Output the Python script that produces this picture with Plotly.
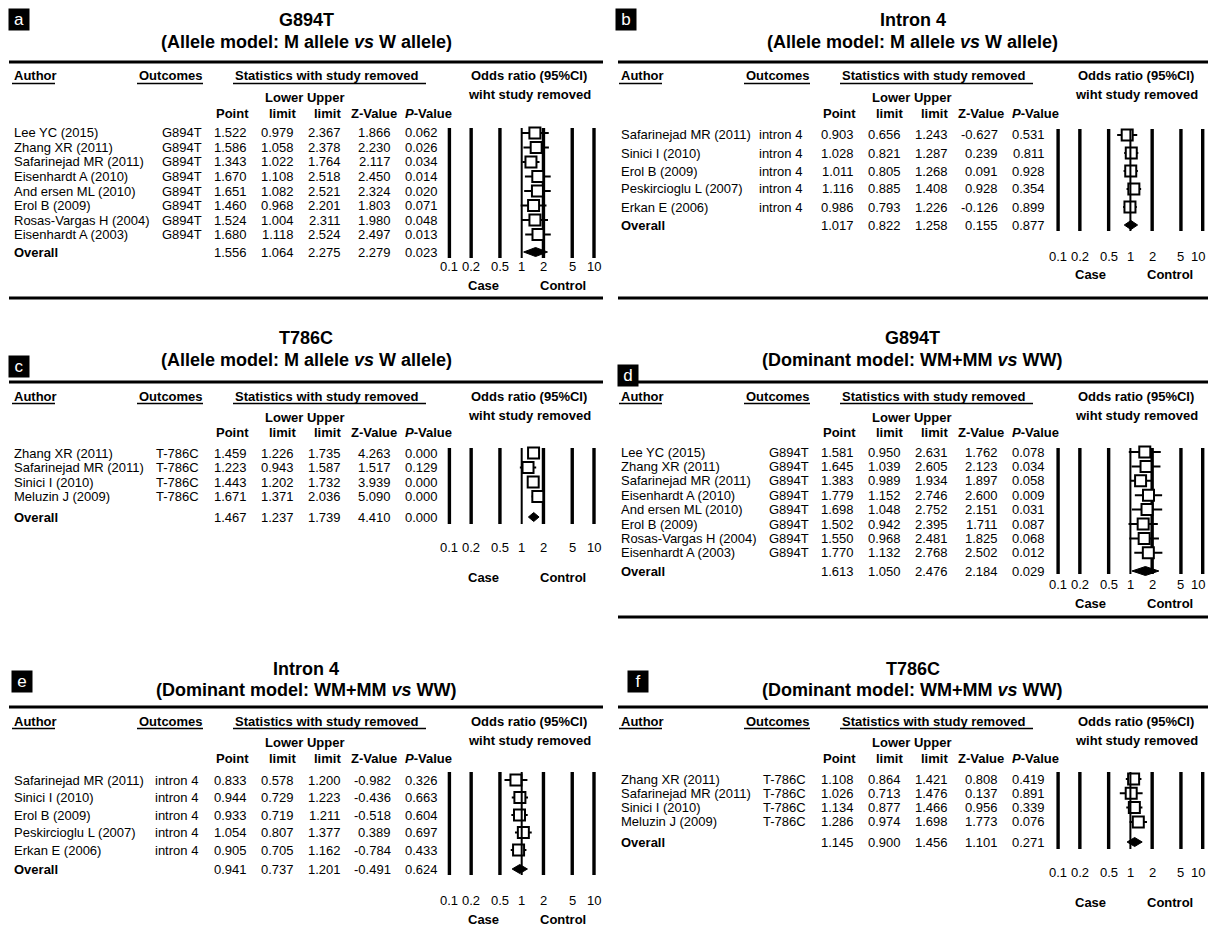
import math
import plotly.graph_objects as go

W, H = 1208, 934
FONT = "Liberation Sans, Arial, Helvetica, sans-serif"

# ---------------- data ----------------
# a: G894T, allele model
A_AUTHOR = ["Lee YC (2015)", "Zhang XR (2011)", "Safarinejad MR (2011)", "Eisenhardt A (2010)",
            "And ersen ML (2010)", "Erol B (2009)", "Rosas-Vargas H (2004)", "Eisenhardt A (2003)"]
A_POINT = [1.522, 1.586, 1.343, 1.670, 1.651, 1.460, 1.524, 1.680, 1.556]
A_LOWER = [0.979, 1.058, 1.022, 1.108, 1.082, 0.968, 1.004, 1.118, 1.064]
A_UPPER = [2.367, 2.378, 1.764, 2.518, 2.521, 2.201, 2.311, 2.524, 2.275]
A_Z = [1.866, 2.230, 2.117, 2.450, 2.324, 1.803, 1.980, 2.497, 2.279]
A_P = [0.062, 0.026, 0.034, 0.014, 0.020, 0.071, 0.048, 0.013, 0.023]

# b: Intron 4, allele model
B_AUTHOR = ["Safarinejad MR (2011)", "Sinici I (2010)", "Erol B (2009)",
            "Peskircioglu L (2007)", "Erkan E (2006)"]
B_POINT = [0.903, 1.028, 1.011, 1.116, 0.986, 1.017]
B_LOWER = [0.656, 0.821, 0.805, 0.885, 0.793, 0.822]
B_UPPER = [1.243, 1.287, 1.268, 1.408, 1.226, 1.258]
B_Z = [-0.627, 0.239, 0.091, 0.928, -0.126, 0.155]
B_P = [0.531, 0.811, 0.928, 0.354, 0.899, 0.877]

# c: T786C, allele model
C_AUTHOR = ["Zhang XR (2011)", "Safarinejad MR (2011)", "Sinici I (2010)", "Meluzin J (2009)"]
C_POINT = [1.459, 1.223, 1.443, 1.671, 1.467]
C_LOWER = [1.226, 0.943, 1.202, 1.371, 1.237]
C_UPPER = [1.735, 1.587, 1.732, 2.036, 1.739]
C_Z = [4.263, 1.517, 3.939, 5.090, 4.410]
C_P = [0.000, 0.129, 0.000, 0.000, 0.000]

# d: G894T, dominant model
D_AUTHOR = A_AUTHOR
D_POINT = [1.581, 1.645, 1.383, 1.779, 1.698, 1.502, 1.550, 1.770, 1.613]
D_LOWER = [0.950, 1.039, 0.989, 1.152, 1.048, 0.942, 0.968, 1.132, 1.050]
D_UPPER = [2.631, 2.605, 1.934, 2.746, 2.752, 2.395, 2.481, 2.768, 2.476]
D_Z = [1.762, 2.123, 1.897, 2.600, 2.151, 1.711, 1.825, 2.502, 2.184]
D_P = [0.078, 0.034, 0.058, 0.009, 0.031, 0.087, 0.068, 0.012, 0.029]

# e: Intron 4, dominant model
E_AUTHOR = B_AUTHOR
E_POINT = [0.833, 0.944, 0.933, 1.054, 0.905, 0.941]
E_LOWER = [0.578, 0.729, 0.719, 0.807, 0.705, 0.737]
E_UPPER = [1.200, 1.223, 1.211, 1.377, 1.162, 1.201]
E_Z = [-0.982, -0.436, -0.518, 0.389, -0.784, -0.491]
E_P = [0.326, 0.663, 0.604, 0.697, 0.433, 0.624]

# f: T786C, dominant model
F_AUTHOR = C_AUTHOR
F_POINT = [1.108, 1.026, 1.134, 1.286, 1.145]
F_LOWER = [0.864, 0.713, 0.877, 0.974, 0.900]
F_UPPER = [1.421, 1.476, 1.466, 1.698, 1.456]
F_Z = [0.808, 0.137, 0.956, 1.773, 1.101]
F_P = [0.419, 0.891, 0.339, 0.076, 0.271]

REF_TICKS = [0.1, 0.2, 0.5, 1, 2, 5, 10]
TICK_TEXT = ["0.1", "0.2", "0.5", "1", "2", "5", "10"]

ALLELE = "(Allele model: M allele <i>vs</i> W allele)"
DOMINANT = "(Dominant model: WM+MM <i>vs</i> WW)"

PANELS = [
    dict(tag="a", gene="G894T", model=ALLELE, outcome="G894T", out_anchor=("right", 204),
         author=A_AUTHOR, point=A_POINT, lower=A_LOWER, upper=A_UPPER, z=A_Z, p=A_P,
         ox=0, rule=62, t1=20, t2=42, box=(19, 19), first=133, step=14.5, overall=252,
         ltop=128, lbot=258, ticks=267, case=285, bottom=298),
    dict(tag="b", gene="Intron 4", model=ALLELE, outcome="intron 4", out_anchor=("left", 150),
         author=B_AUTHOR, point=B_POINT, lower=B_LOWER, upper=B_UPPER, z=B_Z, p=B_P,
         ox=607, rule=62, t1=20, t2=42, box=(19, 19), first=135, step=18, overall=225,
         ltop=129, lbot=231, ticks=256, case=274, bottom=298),
    dict(tag="c", gene="T786C", model=ALLELE, outcome="T-786C", out_anchor=("right", 201),
         author=C_AUTHOR, point=C_POINT, lower=C_LOWER, upper=C_UPPER, z=C_Z, p=C_P,
         ox=0, rule=382, t1=338, t2=360, box=(19, 366), first=453, step=14.5, overall=517,
         ltop=448, lbot=524, ticks=547, case=577, bottom=None),
    dict(tag="d", gene="G894T", model=DOMINANT, outcome="G894T", out_anchor=("right", 204),
         author=D_AUTHOR, point=D_POINT, lower=D_LOWER, upper=D_UPPER, z=D_Z, p=D_P,
         ox=607, rule=382, t1=338, t2=360, box=(21, 376), first=452, step=14.4, overall=571,
         ltop=448, lbot=574, ticks=584, case=603, bottom=617),
    dict(tag="e", gene="Intron 4", model=DOMINANT, outcome="intron 4", out_anchor=("left", 153),
         author=E_AUTHOR, point=E_POINT, lower=E_LOWER, upper=E_UPPER, z=E_Z, p=E_P,
         ox=0, rule=707, t1=669, t2=690, box=(22, 681), first=780, step=17.5, overall=869,
         ltop=772, lbot=875, ticks=900, case=919, bottom=None),
    dict(tag="f", gene="T786C", model=DOMINANT, outcome="T-786C", out_anchor=("left", 154),
         author=F_AUTHOR, point=F_POINT, lower=F_LOWER, upper=F_UPPER, z=F_Z, p=F_P,
         ox=607, rule=707, t1=669, t2=690, box=(31, 681), first=779, step=14.3, overall=842,
         ltop=772, lbot=849, ticks=872, case=902, bottom=None),
]

# forest axis geometry: pixel of OR = 1 in each column and pixels per decade
ONE_X = {0: 521.7, 607: 1130.4}
DECADE = 72.3


def fx(x):
    return x / W


def fy(y):
    return 1 - y / H


fig = go.Figure()
annotations = []
shapes = []


def text(x, y, s, anchor="left", size=13, bold=False, color="black", **kw):
    if bold:
        s = "<b>" + s + "</b>"
    d = dict(x=fx(x), y=fy(y), xref="paper", yref="paper", text=s, showarrow=False,
             xanchor=anchor, yanchor="middle", font=dict(family=FONT, size=size, color=color))
    d.update(kw)
    annotations.append(d)


def hline(x0, x1, y, width):
    shapes.append(dict(type="line", xref="paper", yref="paper", x0=fx(x0), x1=fx(x1),
                       y0=fy(y), y1=fy(y), line=dict(color="black", width=width)))


for k, P in enumerate(PANELS, start=1):
    ox = P["ox"]
    left_side = ox == 0
    n = len(P["author"])
    first, step = P["first"], P["step"]
    overall_idx = (P["overall"] - first) / step

    def row_px(i):
        return first + i * step

    # --- titles and panel letter ---
    text(ox + 306, P["t1"], P["gene"], anchor="center", size=18, bold=True)
    text(ox + 306, P["t2"], P["model"], anchor="center", size=18, bold=True)
    bx, by = P["box"]
    annotations.append(dict(x=fx(ox + bx), y=fy(by), xref="paper", yref="paper", text=P["tag"],
                            showarrow=False, xanchor="center", yanchor="middle",
                            width=20, height=21, bgcolor="black", borderpad=0,
                            font=dict(family=FONT, size=17, color="white")))

    # --- rules ---
    rx0, rx1 = (9, 603) if left_side else (618, 1208)
    hline(rx0, rx1, P["rule"], 3)
    if P["bottom"] is not None:
        hline(rx0, rx1, P["bottom"], 3)

    # --- column headers ---
    R = P["rule"]
    text(ox + 12, R + 14, "Author", bold=True)
    hline(ox + 12, ox + 55, R + 21.5, 1.6)
    text(ox + 137, R + 14, "Outcomes", bold=True)
    hline(ox + 137, ox + 203, R + 21.5, 1.6)
    text(ox + 233, R + 14, "Statistics with study removed", bold=True)
    hline(ox + 233, ox + 426, R + 21.5, 1.6)
    text(ox + 529, R + 14, "Odds ratio (95%CI)", anchor="center", bold=True)
    text(ox + 529, R + 33, "wiht study removed", anchor="center", bold=True)
    text(ox + 304, R + 35, "Lower Upper", anchor="center", bold=True)
    text(ox + 232, R + 51, "Point", anchor="center", bold=True)
    text(ox + 282, R + 51, "limit", anchor="center", bold=True)
    text(ox + 327, R + 51, "limit", anchor="center", bold=True)
    text(ox + 374, R + 51, "Z-Value", anchor="center", bold=True)
    text(ox + 428, R + 51, "<i>P</i>-Value", anchor="center", bold=True)

    # --- table rows ---
    oa, oxpos = P["out_anchor"]
    cols = [(P["point"], 249), (P["lower"], 296), (P["upper"], 343), (P["z"], 393), (P["p"], 440)]
    for i in range(n + 1):
        y = row_px(i) if i < n else P["overall"]
        if i < n:
            text(ox + 12, y, P["author"][i])
            text(ox + oxpos, y, P["outcome"], anchor=oa)
        else:
            text(ox + 12, y, "Overall", bold=True)
        for vals, xr in cols:
            text(ox + xr, y, f"{vals[i]:.3f}", anchor="right")

    # --- forest axis ---
    one = ONE_X[ox]
    if left_side:
        lo, hi = -1.2, 1.2
    else:
        lo, hi = -1.2, (W - one) / DECADE
    dx0 = (one + lo * DECADE) / W
    dx1 = (one + hi * DECADE) / W
    top_px, bot_px = P["ltop"] - 3, P["lbot"] + 3
    top_idx = (top_px - first) / step
    bot_idx = (bot_px - first) / step
    sx = "x" if k == 1 else f"x{k}"
    sy = "y" if k == 1 else f"y{k}"
    xa = "xaxis" if k == 1 else f"xaxis{k}"
    ya = "yaxis" if k == 1 else f"yaxis{k}"
    fig.layout[xa] = dict(type="log", range=[lo, hi], domain=[max(0, dx0), min(1, dx1)],
                          anchor=sy, showgrid=False, zeroline=False, showline=False,
                          showticklabels=False, ticks="", fixedrange=True)
    fig.layout[ya] = dict(range=[bot_idx, top_idx], domain=[fy(bot_px), fy(top_px)],
                          anchor=sx, showgrid=False, zeroline=False, showline=False,
                          showticklabels=False, ticks="", fixedrange=True)

    ly0 = (P["ltop"] - first) / step
    ly1 = (P["lbot"] - first) / step
    # reference lines other than 1
    rx, ry = [], []
    for v in REF_TICKS:
        if v != 1:
            rx += [v, v, None]
            ry += [ly0, ly1, None]
    fig.add_trace(go.Scatter(x=rx, y=ry, mode="lines", xaxis=sx, yaxis=sy,
                             line=dict(color="black", width=3.4), hoverinfo="skip",
                             showlegend=False))

    # confidence intervals
    cx, cy = [], []
    for i in range(n):
        cx += [P["lower"][i], P["upper"][i], None]
        cy += [i, i, None]
    fig.add_trace(go.Scatter(x=cx, y=cy, mode="lines", xaxis=sx, yaxis=sy,
                             line=dict(color="black", width=2), hoverinfo="skip",
                             showlegend=False))
    # point estimates
    fig.add_trace(go.Scatter(x=P["point"][:n], y=list(range(n)), mode="markers",
                             xaxis=sx, yaxis=sy,
                             marker=dict(symbol="square", size=11, color="white",
                                         line=dict(color="black", width=2)),
                             hoverinfo="skip", showlegend=False))
    # pooled diamond
    hh = 4.5 / step
    fig.add_trace(go.Scatter(
        x=[P["lower"][n], P["point"][n], P["upper"][n], P["point"][n], P["lower"][n]],
        y=[overall_idx, overall_idx - hh, overall_idx, overall_idx + hh, overall_idx],
        mode="lines", fill="toself", fillcolor="black", line=dict(color="black", width=1),
        xaxis=sx, yaxis=sy, hoverinfo="skip", showlegend=False))
    # line of no effect
    fig.add_trace(go.Scatter(x=[1, 1], y=[ly0, ly1], mode="lines", xaxis=sx, yaxis=sy,
                             line=dict(color="black", width=2), hoverinfo="skip",
                             showlegend=False))

    # tick labels (the last one on the right column is kept inside the page)
    for v, t in zip(REF_TICKS, TICK_TEXT):
        at_edge = (not left_side) and v == REF_TICKS[-1]
        ann = dict(x=math.log10(v), y=fy(P["ticks"]), xref=sx, yref="paper",
                   text=t, showarrow=False, xanchor="right" if at_edge else "center",
                   yanchor="middle", font=dict(family=FONT, size=13, color="black"))
        if at_edge:
            ann["xshift"] = W - 1 - (one + DECADE * math.log10(v))
        annotations.append(ann)
    text(ox + 483, P["case"], "Case", anchor="center", bold=True)
    text(ox + 563, P["case"], "Control", anchor="center", bold=True)

fig.update_layout(width=W, height=H, margin=dict(l=0, r=0, t=0, b=0),
                  paper_bgcolor="white", plot_bgcolor="rgba(0,0,0,0)",
                  annotations=annotations, shapes=shapes, showlegend=False,
                  font=dict(family=FONT, size=13, color="black"))
fig.write_html("out.html")
